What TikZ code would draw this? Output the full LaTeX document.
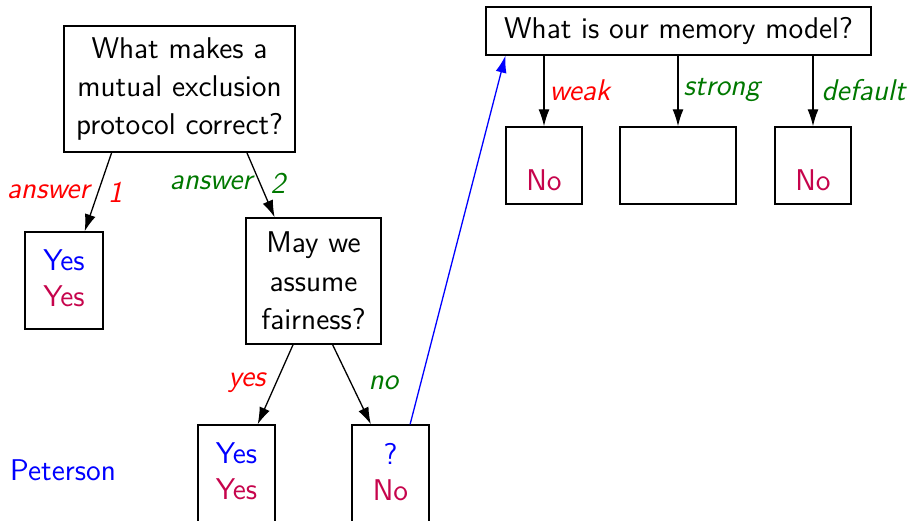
\documentclass[tikz,border=0pt]{standalone}
\usepackage{fontspec}
\usetikzlibrary{arrows.meta,calc}
\definecolor{crimson}{RGB}{198,4,76}
\definecolor{lblred}{RGB}{255,0,0}
\definecolor{lblgreen}{RGB}{0,120,0}
\tikzset{
  qbox/.style={draw,line width=0.7pt,rectangle,inner sep=0pt,align=center,font=\sffamily\fontsize{15}{19.2}\selectfont},
  conn/.style={line width=0.65pt,-{Latex[length=8.5pt,width=5.5pt]}},
  lbl/.style={font=\sffamily\itshape\fontsize{15}{18}\selectfont,inner sep=0pt},
}
\begin{document}
\begin{tikzpicture}[x=0.5pt,y=-0.5pt]
\useasboundingbox (0,0) rectangle (909,520);
\clip (0,0) rectangle (909,520);
% nodes
\node[qbox,minimum width=115.5pt,minimum height=63pt] (A) at (179.5,89) {What makes a\\mutual exclusion\\protocol correct?};
\node[qbox,minimum width=39pt,minimum height=48.5pt] (B) at (64,280.5) {\textcolor{blue}{Yes}\\[-1.2pt]\textcolor{crimson}{Yes}\rule[-2pt]{0pt}{2pt}};
\node[qbox,minimum width=67.5pt,minimum height=63pt] (C) at (313.5,281) {May we\\assume\\fairness?};
\node[qbox,minimum width=38.5pt,minimum height=48.5pt] (D) at (236.5,473.5) {\textcolor{blue}{Yes}\\[-1.2pt]\textcolor{crimson}{Yes}\rule[-2pt]{0pt}{2pt}};
\node[qbox,minimum width=38.5pt,minimum height=48.5pt] (E) at (390.5,473.5) {\textcolor{blue}{?}\\[-1.2pt]\textcolor{crimson}{No}\rule[-2pt]{0pt}{2pt}};
\node[font=\sffamily\fontsize{15}{19.2}\selectfont,text=blue,inner sep=0pt] (P) at (63,470) {Peterson};
\node[qbox,minimum width=192.5pt,minimum height=24pt] (F) at (678.5,31) {What is our memory model?};
\node[qbox,minimum width=38pt,minimum height=38.5pt] (G) at (544,165.5) {\rule{0pt}{7.5pt}\\[-1.2pt]\textcolor{crimson}{No}};
\node[qbox,minimum width=58pt,minimum height=38.5pt] (H) at (678,165.5) {};
\node[qbox,minimum width=38pt,minimum height=38.5pt] (I) at (813,165.5) {\rule{0pt}{7.5pt}\\[-1.2pt]\textcolor{crimson}{No}};
% connectors
\draw[conn] ($(A.south west)!0.208!(A.south east)$) -- ($(B.north west)!0.76!(B.north east)$)
  node[lbl,pos=0.5,left=4pt,text=lblred] {answer}
  node[lbl,pos=0.5,right=4.5pt,text=lblred] {1};
\draw[conn] ($(A.south west)!0.79!(A.south east)$) -- ($(C.north west)!0.215!(C.north east)$)
  node[lbl,pos=0.47,left=3.5pt,text=lblgreen] {answer}
  node[lbl,pos=0.47,right=5pt,text=lblgreen] {2};
\draw[conn] ($(C.south west)!0.35!(C.south east)$) -- ($(D.north west)!0.77!(D.north east)$)
  node[lbl,pos=0.48,left=5pt,text=lblred] {yes};
\draw[conn] ($(C.south west)!0.64!(C.south east)$) -- ($(E.north west)!0.25!(E.north east)$)
  node[lbl,pos=0.48,right=8.5pt,text=lblgreen] {no};
\draw[conn,blue] ($(E.north west)!0.75!(E.north east)$) -- ($(F.south west)!0.052!(F.south east)$);
\draw[conn] (F.south -| G.north) -- (G.north)
  node[lbl,pos=0.49,right=2.5pt,text=lblred] {weak};
\draw[conn] (F.south -| H.north) -- (H.north)
  node[lbl,pos=0.49,right=2.5pt,text=lblgreen] {strong};
\draw[conn] (F.south -| I.north) -- (I.north)
  node[lbl,pos=0.49,right=4pt,text=lblgreen] {default};
\end{tikzpicture}
\end{document}
